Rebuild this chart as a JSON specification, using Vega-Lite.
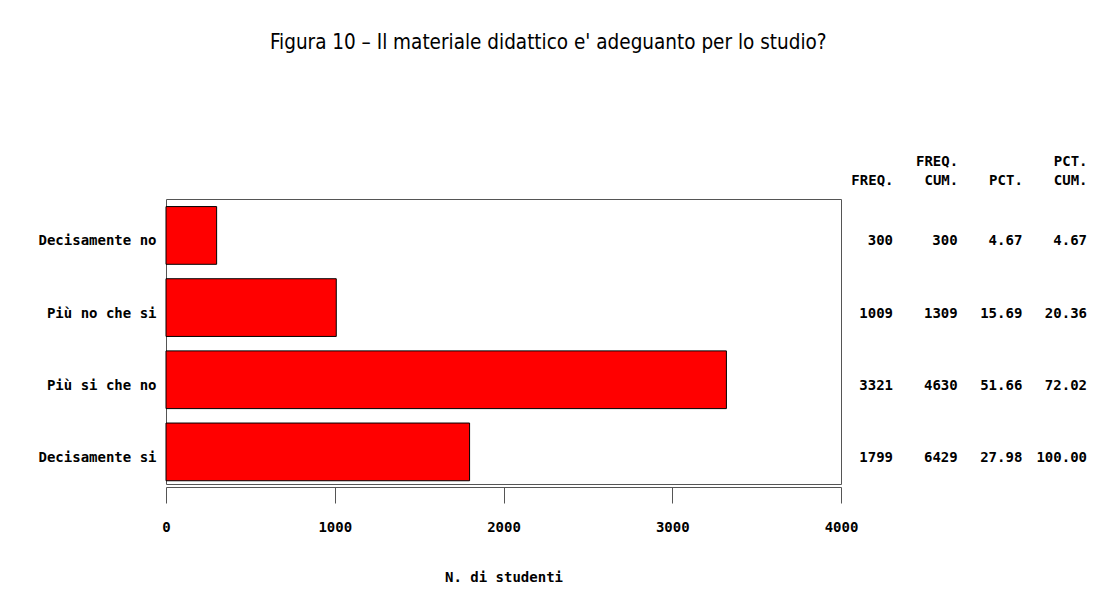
{
  "$schema": "https://vega.github.io/schema/vega-lite/v6.json",
  "background": "white",
  "padding": {"left": 9, "top": 32, "right": 5, "bottom": 5},
  "title": {
    "text": "Figura 10 – Il materiale didattico e' adeguanto per lo studio?",
    "font": "Liberation Sans Narrow, DejaVu Sans Condensed, sans-serif",
    "fontSize": 20.5,
    "fontWeight": "normal",
    "color": "black",
    "offset": 101,
    "anchor": "middle"
  },
  "config": {
    "axis": {"labelFont": "DejaVu Sans Mono", "labelFontSize": 14, "labelFontWeight": "bold", "labelColor": "black", "titleFont": "DejaVu Sans Mono", "titleFontSize": 14, "titleFontWeight": "bold", "titleColor": "black", "domainColor": "#555", "tickColor": "#555", "grid": false}
  },
  "data": {
    "values": [
      {"cat": "Decisamente no", "freq": 300, "cumfreq": 300, "pct": 4.67, "cumpct": 4.67},
      {"cat": "Più no che si", "freq": 1009, "cumfreq": 1309, "pct": 15.69, "cumpct": 20.36},
      {"cat": "Più si che no", "freq": 3321, "cumfreq": 4630, "pct": 51.66, "cumpct": 72.02},
      {"cat": "Decisamente si", "freq": 1799, "cumfreq": 6429, "pct": 27.98, "cumpct": 100.00}
    ]
  },
  "spacing": 52,
  "bounds": "flush",
  "resolve": {"scale": {"y": "shared"}},
  "hconcat": [
    {
      "width": 675,
      "height": 285,
      "view": {"stroke": "#555", "strokeWidth": 1},
      "mark": {"type": "bar", "fill": "#ff0000", "stroke": "black", "strokeWidth": 1},
      "encoding": {
        "y": {
          "field": "cat", "type": "nominal", "sort": null,
          "scale": {"paddingInner": 0.2, "paddingOuter": 0.075, "align": 0.7},
          "axis": {"title": null, "ticks": false, "domain": false, "labelPadding": 10, "minExtent": 156, "labelOffset": 6}
        },
        "x": {
          "field": "freq", "type": "quantitative",
          "scale": {"domain": [0, 4000], "nice": false},
          "axis": {"values": [0, 1000, 2000, 3000, 4000], "format": "d", "labelFlush": false, "title": "N. di studenti", "offset": 3, "tickSize": 16, "labelPadding": 17, "titlePadding": 36}
        }
      }
    },
    {
      "width": 194,
      "height": 285,
      "view": {"stroke": null},
      "encoding": {
        "y": {"field": "cat", "type": "nominal", "sort": null, "axis": null}
      },
      "layer": [
        {
          "mark": {"type": "text", "align": "right", "baseline": "middle", "dy": 6, "font": "DejaVu Sans Mono", "fontSize": 14, "fontWeight": "bold", "color": "black"},
          "encoding": {
            "x": {
              "datum": "f", "type": "ordinal",
              "scale": {"type": "point", "domain": ["f", "fc", "p", "pc"], "padding": 0},
              "axis": {"orient": "top", "title": null, "domain": false, "ticks": false, "labelPadding": 31, "labelAlign": "right", "labelAngle": 0, "labelBaseline": "bottom", "labelLineHeight": 19, "labelExpr": "datum.value == 'f' ? ['', 'FREQ.'] : datum.value == 'fc' ? ['FREQ.', 'CUM.'] : datum.value == 'p' ? ['', 'PCT.'] : ['PCT.', 'CUM.']"}
            },
            "text": {"field": "freq", "type": "quantitative", "format": "d"}
          }
        },
        {
          "mark": {"type": "text", "align": "right", "baseline": "middle", "dy": 6, "font": "DejaVu Sans Mono", "fontSize": 14, "fontWeight": "bold", "color": "black"},
          "encoding": {
            "x": {"datum": "fc", "type": "ordinal"},
            "text": {"field": "cumfreq", "type": "quantitative", "format": "d"}
          }
        },
        {
          "mark": {"type": "text", "align": "right", "baseline": "middle", "dy": 6, "font": "DejaVu Sans Mono", "fontSize": 14, "fontWeight": "bold", "color": "black"},
          "encoding": {
            "x": {"datum": "p", "type": "ordinal"},
            "text": {"field": "pct", "type": "quantitative", "format": ".2f"}
          }
        },
        {
          "mark": {"type": "text", "align": "right", "baseline": "middle", "dy": 6, "font": "DejaVu Sans Mono", "fontSize": 14, "fontWeight": "bold", "color": "black"},
          "encoding": {
            "x": {"datum": "pc", "type": "ordinal"},
            "text": {"field": "cumpct", "type": "quantitative", "format": ".2f"}
          }
        }
      ]
    }
  ]
}
